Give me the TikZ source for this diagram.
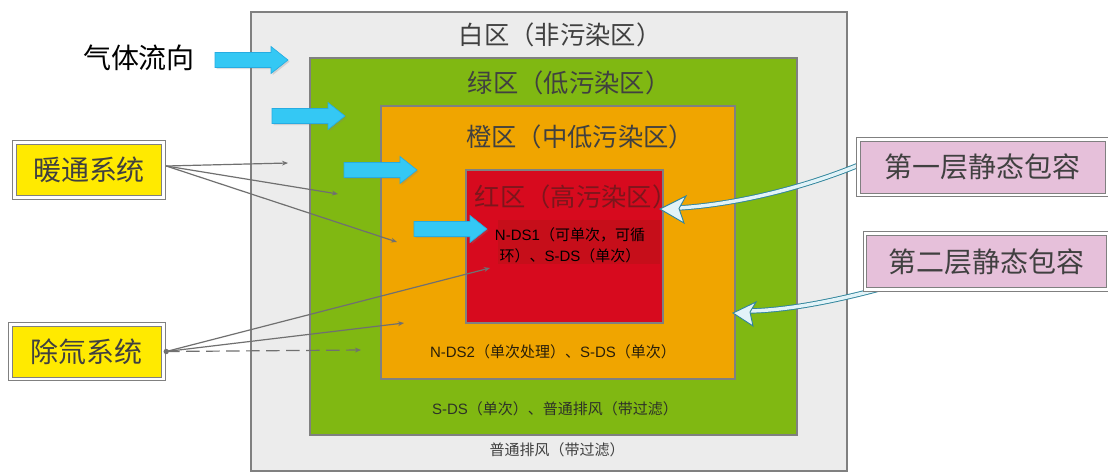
\documentclass[tikz,border=0pt]{standalone}
\usepackage{fontspec}
\setmainfont{Liberation Sans}
\newfontfamily\cjk{Noto Sans CJK SC}
\usetikzlibrary{arrows.meta,shadows}
\definecolor{zonewhite}{RGB}{236,236,236}
\definecolor{zonegreen}{RGB}{128,184,18}
\definecolor{zoneorange}{RGB}{240,165,0}
\definecolor{zonered}{RGB}{215,10,30}
\definecolor{zonereddark}{RGB}{198,14,26}
\definecolor{zoneline}{RGB}{128,128,128}
\definecolor{labelgray}{RGB}{64,64,64}
\definecolor{labelred}{RGB}{125,22,28}
\definecolor{flowblue}{RGB}{52,200,244}
\definecolor{flowblueline}{RGB}{38,172,226}
\definecolor{sysyellow}{RGB}{255,234,0}
\definecolor{layerpink}{RGB}{230,192,218}
\definecolor{conngray}{RGB}{112,112,112}
\definecolor{capline}{RGB}{49,133,156}
\definecolor{capfill}{RGB}{226,243,248}
\newcommand\bluearrow[2]{%
  \draw[flowarrow] (#1,#2-7.5) -- ++(56,0) -- ++(0,-6) -- ++(17,13.5)
    -- ++(-17,13.5) -- ++(0,-6) -- ++(-56,0) -- cycle;}
\begin{document}
\begin{tikzpicture}[x=0.75pt,y=-0.75pt,
  zone/.style={draw=zoneline,line width=0.9pt},
  zonelabel/.style={font=\cjk\fontsize{19}{22}\selectfont,text=labelgray,inner sep=0pt},
  note/.style={font=\fontsize{11.25}{15.75}\selectfont,align=center,inner sep=0pt},
  flowarrow/.style={fill=flowblue,draw=flowblueline,line width=0.5pt,line join=miter,
    drop shadow={shadow xshift=1.2pt,shadow yshift=-1.2pt,opacity=0.25}},
  sysbox/.style={draw=zoneline,line width=0.75pt,double=white,double distance=1.9pt,
    fill=sysyellow,inner sep=0pt,text=labelgray,font=\cjk\fontsize{21}{24}\selectfont,
    drop shadow={shadow xshift=1.5pt,shadow yshift=-1.5pt,opacity=0.2}},
  layerbox/.style={sysbox,fill=layerpink},
  conn/.style={draw=conngray,line width=0.9pt,-{Stealth[length=4.5pt,width=3.6pt]}},
  capbody/.style={draw=capline,line width=0.7pt,double=capfill,double distance=2.6pt},
  caphead/.style={fill=capfill,draw=capline,line width=0.7pt,line join=miter}]
\useasboundingbox (0,0) rectangle (1108,472);
\fill[white] (0,0) rectangle (1108,472);
% zones
\draw[zone,fill=zonewhite] (251,12) rectangle (847,471);
\draw[zone,fill=zonegreen,drop shadow={shadow xshift=1pt,shadow yshift=-1pt,opacity=0.2}] (310,58) rectangle (797,435);
\draw[zone,fill=zoneorange,drop shadow={shadow xshift=1pt,shadow yshift=-1pt,opacity=0.2}] (381,106) rectangle (735,379);
\draw[zone,fill=zonered] (466,170) rectangle (663,323);
\fill[zonereddark] (498,220) rectangle (660,264);
% zone labels
\node[zonelabel] (lblwhite) at (560,35) {白区（非污染区）};
\node[zonelabel] (lblgreen) at (569,83) {绿区（低污染区）};
\node[zonelabel] (lblorange) at (580,137) {橙区（中低污染区）};
\node[zonelabel,text=labelred] (lblred) at (576,197) {红区（高污染区）};
\node[note,text=black] (nds1) at (570,245.5) {N-DS1{\cjk（可单次，可循}\\{\cjk 环）、}S-DS{\cjk（单次）}};
\node[note,text={rgb,255:red,40;green,30;blue,10}] (nds2) at (553,352) {N-DS2{\cjk（单次处理）、}S-DS{\cjk（单次）}};
\node[note,text={rgb,255:red,45;green,50;blue,40}] (sdsg) at (555,409) {S-DS{\cjk（单次）、普通排风（带过滤）}};
\node[note,text=labelgray] (pt) at (557,450) {\cjk 普通排风（带过滤）};
% gas flow
\node[font=\cjk\fontsize{21}{24}\selectfont,text=black,inner sep=0pt] (flow) at (139,58) {气体流向};
\bluearrow{215}{60}
\bluearrow{272}{116}
\bluearrow{344}{170}
\bluearrow{414}{229}
% systems
\node[sysbox,minimum width=112.1pt,minimum height=41.6pt] (nt) at (89,170) {暖通系统};
\node[sysbox,minimum width=115.1pt,minimum height=40.9pt] (chu) at (87,351.5) {除氚系统};
\coordinate (h1) at (288,163);
\coordinate (h2) at (338,194);
\coordinate (h3) at (397,242);
\coordinate (c1) at (490,268);
\coordinate (c2) at (404,323);
\coordinate (c3) at (361,350);
\coordinate (ntout) at ([shift={(1.5pt,3pt)}]nt.east);
\coordinate (chuout) at ([xshift=1.5pt]chu.east);
\draw[conn] (ntout) -- (h1);
\draw[conn] (ntout) -- (h2);
\draw[conn] (ntout) -- (h3);
\draw[conn] (chuout) -- (c1);
\draw[conn] (chuout) -- (c2);
\draw[conn,dash pattern=on 10pt off 5pt] (chuout) -- (c3);
\fill[conngray] (chuout) circle (2pt);
% static containment arrows
\coordinate (l1start) at (866,162);
\coordinate (l1end) at (678,208);
\coordinate (l2start) at (890,286);
\coordinate (l2end) at (750,311);
\draw[capbody] (l1start) .. controls (800,190) and (730,205) .. (l1end);
\filldraw[caphead] (660,209) -- (686,196) -- (679,208.5) -- (684,223) -- cycle;
\draw[capbody] (l2start) .. controls (840,300) and (790,310) .. (l2end);
\filldraw[caphead] (733,313) -- (756,302) -- (750,312) -- (753,326) -- cycle;
\node[layerbox,minimum width=186.4pt,minimum height=41.6pt] (layer1) at (982.75,167.25) {第一层静态包容};
\node[layerbox,minimum width=182.25pt,minimum height=42pt] (layer2) at (986.5,261.5) {第二层静态包容};
\end{tikzpicture}
\end{document}
